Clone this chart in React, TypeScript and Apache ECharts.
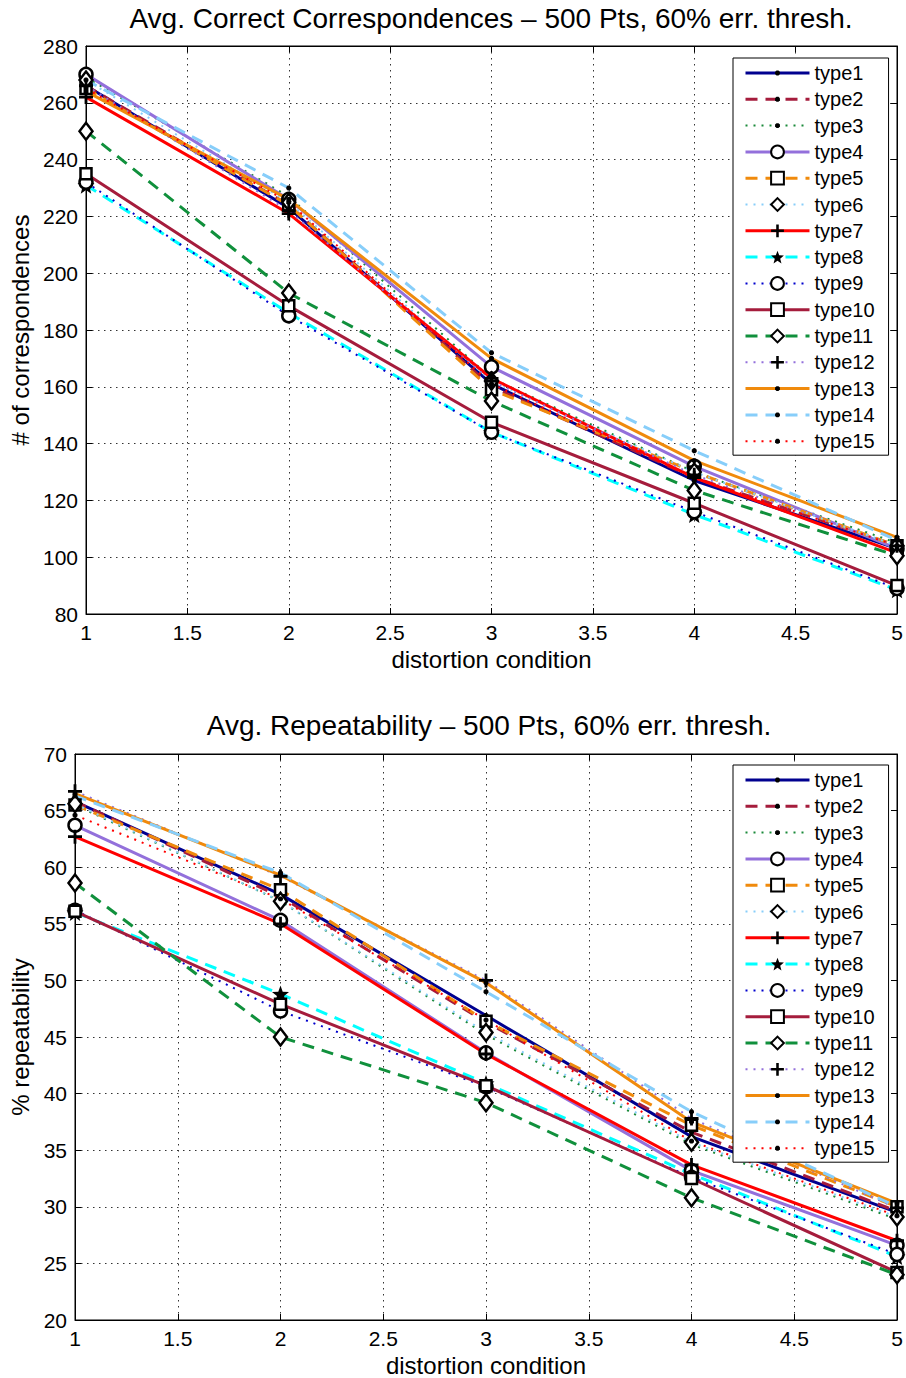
import React, { useEffect, useRef } from "react";
import * as echarts from "echarts";

const conditions = [1, 2, 3, 4, 5];
const typeNames = [
  "type1", "type2", "type3", "type4", "type5", "type6", "type7", "type8",
  "type9", "type10", "type11", "type12", "type13", "type14", "type15",
];

// Avg. correct correspondences, one row per type (x = 1..5)
const correspondences = [
  [266, 223, 161, 127, 103], // type1
  [266, 224, 160, 128, 104], // type2
  [269, 227, 163, 130, 105], // type3
  [270, 226, 167, 132, 103], // type4
  [265, 224, 159, 130, 104], // type5
  [268, 225, 162, 130, 104], // type6
  [262, 221, 163, 128, 101.5], // type7
  [231, 186, 144, 115, 88.5], // type8
  [232, 185, 144, 116, 89], // type9
  [235, 188.5, 147.5, 119, 90], // type10
  [250, 193, 155, 123.5, 100.5], // type11
  [266, 222, 162, 129, 104], // type12
  [264, 226, 170, 134, 107], // type13
  [268, 230, 172, 137.5, 106], // type14
  [265, 225, 161, 128, 104], // type15
];

// Avg. repeatability (%), one row per type (x = 1..5)
const repeatability = [
  [65.8, 57.6, 46.9, 36.2, 29.5], // type1
  [65.8, 57.4, 46.3, 36.6, 29.6], // type2
  [65.5, 57.0, 45.2, 35.5, 28.9], // type3
  [63.7, 55.3, 43.6, 33.2, 26.6], // type4
  [65.5, 58.0, 46.4, 37.2, 30.0], // type5
  [65.6, 57.0, 45.4, 35.7, 29.1], // type6
  [62.7, 55.0, 43.5, 33.7, 27.0], // type7
  [56.0, 48.8, 40.9, 32.9, 25.6], // type8
  [56.2, 47.3, 40.6, 32.6, 25.8], // type9
  [56.1, 47.9, 40.7, 32.5, 24.2], // type10
  [58.6, 45.0, 39.2, 30.8, 24.0], // type11
  [66.7, 59.2, 50.0, 37.8, 29.9], // type12
  [66.5, 59.3, 49.8, 37.5, 30.3], // type13
  [66.3, 59.5, 49.0, 38.4, 30.0], // type14
  [64.6, 57.2, 46.5, 35.8, 29.2], // type15
];

const FONT = '"Liberation Sans", Arial, Helvetica, sans-serif';

const SYMBOLS: Record<string, { symbol: string; size: number | number[]; filled: boolean }> = {
  dot: {
    symbol:
      "path://M0,0M10,10M4.2,3.1L5.8,3.1L6.9,4.2L6.9,5.8L5.8,6.9L4.2,6.9L3.1,5.8L3.1,4.2Z",
    size: 13,
    filled: true,
  },
  circle: { symbol: "circle", size: 13, filled: false },
  square: { symbol: "rect", size: 11, filled: false },
  diamond: { symbol: "path://M6.5,0L13,8.5L6.5,17L0,8.5Z", size: [13, 17], filled: false },
  plus: { symbol: "path://M4,0H6V4H10V6H6V10H4V6H0V4H4Z", size: 14, filled: true },
  star: {
    symbol:
      "path://M10,0L12.47,6.6L19.51,6.91L14,11.3L15.88,18.09L10,14.2L4.12,18.09L6,11.3L0.49,6.91L7.53,6.6Z",
    size: 17,
    filled: true,
  },
};

const STYLES = [
  { color: "#00008f", dash: "solid", marker: "dot" },
  { color: "#a51c3c", dash: "dashed", marker: "dot" },
  { color: "#1a8a3a", dash: "dotted", marker: "dot" },
  { color: "#9370db", dash: "solid", marker: "circle" },
  { color: "#f08a0c", dash: "dashed", marker: "square" },
  { color: "#87cefa", dash: "dotted", marker: "diamond" },
  { color: "#ff0000", dash: "solid", marker: "plus" },
  { color: "#00ffff", dash: "dashed", marker: "star" },
  { color: "#0000cd", dash: "dotted", marker: "circle" },
  { color: "#a51c3c", dash: "solid", marker: "square" },
  { color: "#10903c", dash: "dashed", marker: "diamond" },
  { color: "#9370db", dash: "dotted", marker: "plus" },
  { color: "#f08a0c", dash: "solid", marker: "dot" },
  { color: "#87cefa", dash: "dashed", marker: "dot" },
  { color: "#ff0000", dash: "dotted", marker: "dot" },
];

function dashOf(d: string): any {
  if (d === "dashed") return [12, 8];
  if (d === "dotted") return [2, 6];
  return "solid";
}
function widthOf(d: string): number {
  return d === "dotted" ? 2 : 3;
}

function makeSeries(data: number[][], axisIndex: number) {
  return data.map((row, i) => {
    const st = STYLES[i];
    const sym = SYMBOLS[st.marker];
    return {
      type: "line",
      name: typeNames[i],
      xAxisIndex: axisIndex,
      yAxisIndex: axisIndex,
      data: row.map((v, j) => [conditions[j], v]),
      symbol: sym.symbol,
      symbolSize: sym.size,
      showSymbol: true,
      lineStyle: {
        color: st.color,
        width: widthOf(st.dash),
        type: dashOf(st.dash),
      },
      itemStyle: sym.filled
        ? { color: "#000", borderWidth: 0 }
        : { color: "#fff", borderColor: "#000", borderWidth: 2.5 },
      emphasis: { disabled: true },
    };
  });
}

const gridLine = { show: true, lineStyle: { color: "#333", width: 1, type: [1.5, 4.5] } };
const axisLine = { show: true, lineStyle: { color: "#000", width: 1 } };
const ticks = { show: true, inside: true, length: 6, lineStyle: { color: "#000" } };
const tickLabel = { fontSize: 21, fontFamily: FONT, color: "#000" };
const nameStyle = { fontSize: 24, fontFamily: FONT, color: "#000" };

function legendAt(top: number) {
  return {
    orient: "vertical",
    left: 733,
    top,
    padding: [5, 14, 4, 11],
    itemWidth: 64,
    itemHeight: 16,
    itemGap: 6.3,
    selectedMode: false,
    borderColor: "#000",
    borderWidth: 1,
    borderRadius: 0,
    backgroundColor: "#fff",
    textStyle: { fontSize: 20, fontFamily: FONT, color: "#000", lineHeight: 20 },
    lineStyle: { width: 3 },
    data: typeNames.map((n, i) => ({
      name: n,
      lineStyle: {
        color: STYLES[i].color,
        width: widthOf(STYLES[i].dash),
        type: dashOf(STYLES[i].dash),
      },
    })),
  };
}

export default function App() {
  const ref = useRef<HTMLDivElement>(null);
  useEffect(() => {
    if (!ref.current) return;
    const chart = echarts.init(ref.current, undefined, { renderer: "svg" });
    const option: any = {
      animation: false,
      backgroundColor: "#fff",
      grid: [
        { left: 86, right: 9, top: 46, height: 568, show: true, borderColor: "#000", borderWidth: 1 },
        { left: 75, right: 9, top: 754, height: 567, show: true, borderColor: "#000", borderWidth: 1 },
      ],
      graphic: [
        {
          type: "text",
          x: 491,
          y: 18,
          style: {
            text: "Avg. Correct Correspondences \u2013 500 Pts, 60% err. thresh.",
            fontSize: 28,
            fontFamily: FONT,
            fill: "#000",
            align: "center",
            verticalAlign: "middle",
          },
        },
        {
          type: "text",
          x: 489,
          y: 725,
          style: {
            text: "Avg. Repeatability \u2013 500 Pts, 60% err. thresh.",
            fontSize: 28,
            fontFamily: FONT,
            fill: "#000",
            align: "center",
            verticalAlign: "middle",
          },
        },
      ],
      legend: [legendAt(58), legendAt(765)],
      xAxis: [0, 1].map((g) => ({
          type: "value",
          gridIndex: g,
          min: 1,
          max: 5,
          interval: 0.5,
          name: "distortion condition",
          nameLocation: "middle",
          nameGap: 33,
          nameTextStyle: nameStyle,
          axisLine,
          axisTick: ticks,
          axisLabel: { ...tickLabel, margin: 8 },
          splitLine: gridLine,
        }) as any).concat(
        [0, 1].map((g) => ({
          type: "value",
          gridIndex: g,
          position: "top",
          min: 1,
          max: 5,
          interval: 0.5,
          axisLine,
          axisTick: ticks,
          axisLabel: { show: false },
          splitLine: { show: false },
        })) as any
      ),
      yAxis: [
        {
          type: "value",
          gridIndex: 0,
          min: 80,
          max: 280,
          interval: 20,
          name: "# of correspondences",
          nameLocation: "middle",
          nameGap: 50,
          nameTextStyle: nameStyle,
          axisLine,
          axisTick: ticks,
          axisLabel: { ...tickLabel, margin: 8 },
          splitLine: gridLine,
        },
        {
          type: "value",
          gridIndex: 1,
          min: 20,
          max: 70,
          interval: 5,
          name: "% repeatability",
          nameLocation: "middle",
          nameGap: 42,
          nameTextStyle: nameStyle,
          axisLine,
          axisTick: ticks,
          axisLabel: { ...tickLabel, margin: 8 },
          splitLine: gridLine,
        },
        {
          type: "value",
          gridIndex: 0,
          position: "right",
          min: 80,
          max: 280,
          interval: 20,
          axisLine,
          axisTick: ticks,
          axisLabel: { show: false },
          splitLine: { show: false },
        },
        {
          type: "value",
          gridIndex: 1,
          position: "right",
          min: 20,
          max: 70,
          interval: 5,
          axisLine,
          axisTick: ticks,
          axisLabel: { show: false },
          splitLine: { show: false },
        },
      ],
      series: [...makeSeries(correspondences, 0), ...makeSeries(repeatability, 1)],
    };
    chart.setOption(option);
    return () => chart.dispose();
  }, []);
  return (
    <div
      ref={ref}
      style={{ position: "absolute", left: 0, top: 0, width: 906, height: 1378 }}
    />
  );
}
